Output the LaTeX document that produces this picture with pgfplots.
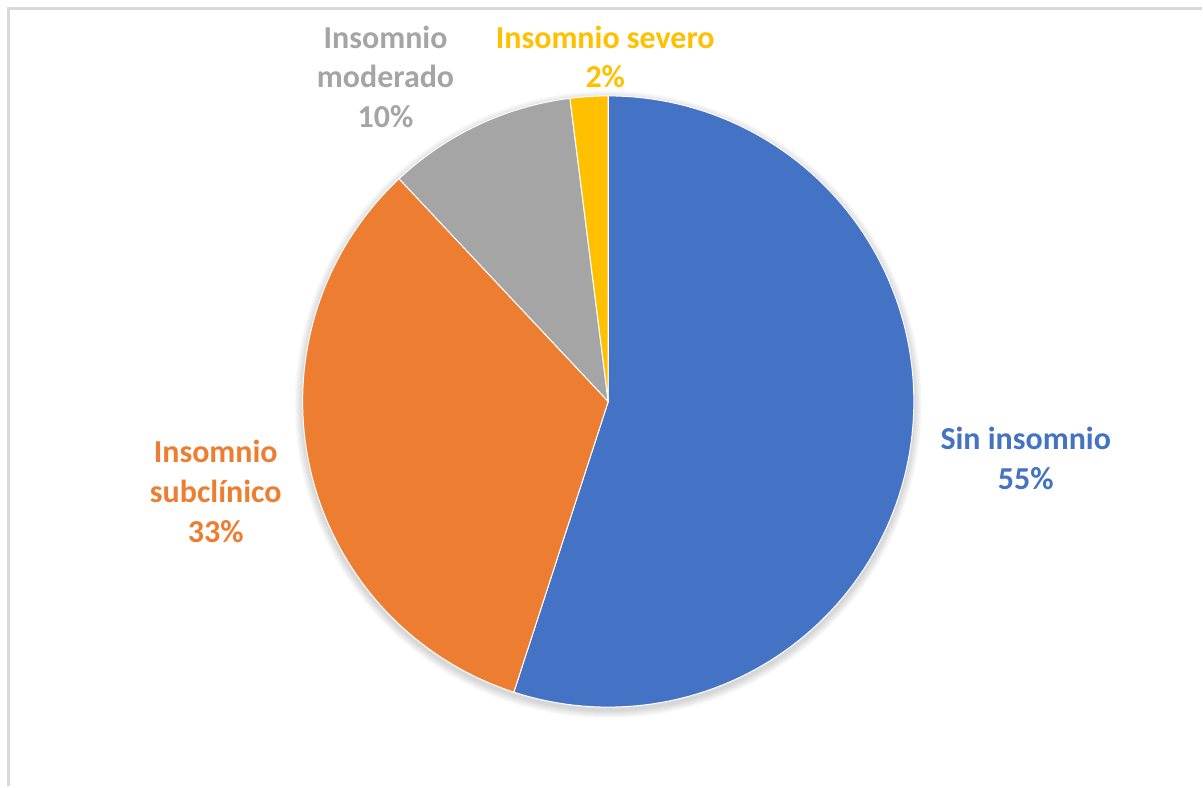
\documentclass[border=0pt]{standalone}
\usepackage{pgfplots}
\pgfplotsset{compat=1.18}
\usepackage{pgfplotstable}
\usepackage{fontspec}
\setmainfont{Carlito}
\definecolor{cblue}{HTML}{4472C4}
\definecolor{corange}{HTML}{ED7D31}
\definecolor{cgray}{HTML}{A5A5A5}
\definecolor{cyellow}{HTML}{FFC000}
\definecolor{frame}{HTML}{D9D9D9}
\pgfplotstableread{
label value
SinInsomnio 55
Subclinico 33
Moderado 10
Severo 2
}\piedata
\pgfplotstablegetelem{0}{value}\of\piedata \let\vA\pgfplotsretval
\pgfplotstablegetelem{1}{value}\of\piedata \let\vB\pgfplotsretval
\pgfplotstablegetelem{2}{value}\of\piedata \let\vC\pgfplotsretval
\pgfplotstablegetelem{3}{value}\of\piedata \let\vD\pgfplotsretval
\pgfmathsetmacro{\aO}{90}
\pgfmathsetmacro{\aA}{\aO-3.6*\vA}
\pgfmathsetmacro{\aB}{\aA-3.6*\vB}
\pgfmathsetmacro{\aC}{\aB-3.6*\vC}
\pgfmathsetmacro{\aD}{\aC-3.6*\vD}
\def\cx{609}\def\cy{-402}\def\R{306}
\tikzset{lbl/.style={font=\fontsize{16}{20}\selectfont\bfseries, align=center, inner sep=0pt}}
\begin{document}%
\begin{tikzpicture}
\begin{axis}[hide axis, scale only axis, width=601.5pt, height=393.5pt,
  xmin=0, xmax=1203, ymin=-787, ymax=0, clip=false]
\fill[white] (axis cs:0,0) rectangle (axis cs:1203,-787);
\draw[frame, line width=1.5pt] (axis cs:9,-787) -- (axis cs:9,-9) -- (axis cs:1203,-9);
% soft shadow
\pgfplotsinvokeforeach{1,2,3,4,5,6,7,8}{
  \fill[black, opacity=0.018] (axis cs:\cx,\cy-3) circle[radius=\R+#1];
}
\addplot[fill=cblue, draw=white, line width=0.5pt, domain=\aA:\aO, samples=120, variable=\t]
  ({\cx+\R*cos(t)},{\cy+\R*sin(t)}) -- (axis cs:\cx,\cy) -- cycle;
\addplot[fill=corange, draw=white, line width=0.5pt, domain=\aB:\aA, samples=80, variable=\t]
  ({\cx+\R*cos(t)},{\cy+\R*sin(t)}) -- (axis cs:\cx,\cy) -- cycle;
\addplot[fill=cgray, draw=white, line width=0.5pt, domain=\aC:\aB, samples=40, variable=\t]
  ({\cx+\R*cos(t)},{\cy+\R*sin(t)}) -- (axis cs:\cx,\cy) -- cycle;
\addplot[fill=cyellow, draw=white, line width=0.5pt, domain=\aD:\aC, samples=10, variable=\t]
  ({\cx+\R*cos(t)},{\cy+\R*sin(t)}) -- (axis cs:\cx,\cy) -- cycle;
\node[lbl, text=cblue] at (axis cs:1027,-459) {Sin insomnio\\55\%};
\node[lbl, text=corange] at (axis cs:216,-492) {Insomnio\\subclínico\\33\%};
\node[lbl, text=cgray] at (axis cs:386,-77) {Insomnio\\moderado\\10\%};
\node[lbl, text=cyellow] at (axis cs:606,-57) {Insomnio severo\\2\%};
\end{axis}
\end{tikzpicture}%
\end{document}
